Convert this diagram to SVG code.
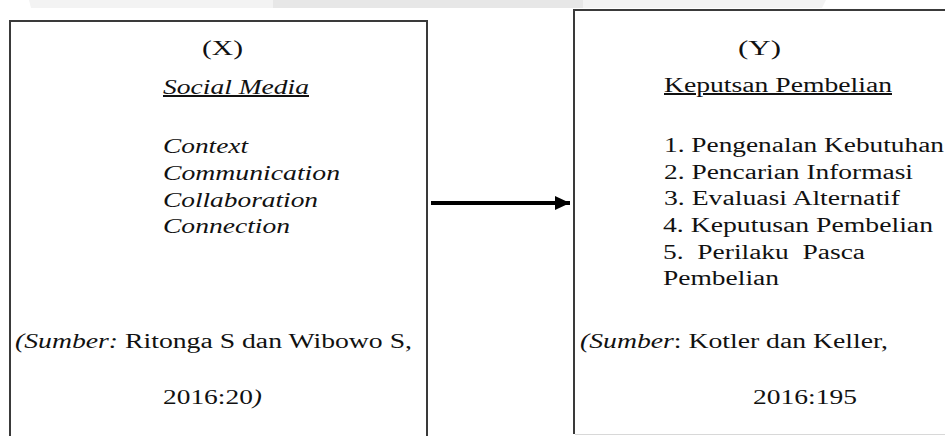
<svg xmlns="http://www.w3.org/2000/svg" width="945" height="436" viewBox="0 0 945 436">
<style>
text{font-family:'Liberation Serif','Times New Roman',serif;font-size:20px;fill:#111;white-space:pre}
.it{font-style:italic}
.ul{text-decoration:underline}
.box{fill:none;stroke:#3a3a3a;stroke-width:2}
</style>
<defs>
<marker id="ah" markerWidth="4" markerHeight="4" refX="3.75" refY="2" orient="auto" markerUnits="strokeWidth">
<path d="M0,0.25 L3.75,2 L0,3.75 Z" fill="#000"/>
</marker>
</defs>
<rect width="945" height="436" fill="#fff"/>
<polygon points="29,0 826,0 822,8 31,8" fill="#f3f3f3"/>
<rect x="273" y="0" width="310" height="8" fill="#e7e7e7"/>
<g id="node-x">
<path class="box" d="M10,440 V21 H427 V440"/>
<text x="202" y="55" textLength="41" lengthAdjust="spacingAndGlyphs">(X)</text>
<text class="it ul" x="163" y="94" textLength="146" lengthAdjust="spacingAndGlyphs">Social Media</text>
<text class="it" x="163" y="153" textLength="85" lengthAdjust="spacingAndGlyphs">Context</text>
<text class="it" x="163" y="180" textLength="177" lengthAdjust="spacingAndGlyphs">Communication</text>
<text class="it" x="163" y="207" textLength="155" lengthAdjust="spacingAndGlyphs">Collaboration</text>
<text class="it" x="163" y="233" textLength="127" lengthAdjust="spacingAndGlyphs">Connection</text>
<text x="15" y="348" textLength="397" lengthAdjust="spacingAndGlyphs"><tspan class="it">(Sumber:</tspan> Ritonga S dan Wibowo S,</text>
<text x="163" y="404" textLength="99" lengthAdjust="spacingAndGlyphs">2016:20<tspan class="it">)</tspan></text>
</g>
<g id="node-y">
<path class="box" d="M574,434 V10 H950"/>
<line x1="575" y1="434.5" x2="945" y2="434.5" stroke="#d8d8d8" stroke-width="1"/>
<text x="738" y="55" textLength="43" lengthAdjust="spacingAndGlyphs">(Y)</text>
<text class="ul" x="664" y="92" textLength="228" lengthAdjust="spacingAndGlyphs">Keputsan Pembelian</text>
<text x="664" y="152" textLength="280" lengthAdjust="spacingAndGlyphs">1. Pengenalan Kebutuhan</text>
<text x="664" y="178.5" textLength="249" lengthAdjust="spacingAndGlyphs">2. Pencarian Informasi</text>
<text x="664" y="205" textLength="236" lengthAdjust="spacingAndGlyphs">3. Evaluasi Alternatif</text>
<text x="663" y="232" textLength="270" lengthAdjust="spacingAndGlyphs">4. Keputusan Pembelian</text>
<text x="663" y="258.5" textLength="202" lengthAdjust="spacingAndGlyphs">5.  Perilaku  Pasca</text>
<text x="663" y="285" textLength="116" lengthAdjust="spacingAndGlyphs">Pembelian</text>
<text x="580" y="348" textLength="308" lengthAdjust="spacingAndGlyphs"><tspan class="it">(Sumber</tspan>: Kotler dan Keller,</text>
<text x="753" y="404" textLength="104" lengthAdjust="spacingAndGlyphs">2016:195</text>
</g>
<g id="connectors">
<line x1="431" y1="203" x2="570" y2="203" stroke="#000" stroke-width="4" marker-end="url(#ah)"/>
</g>
</svg>
